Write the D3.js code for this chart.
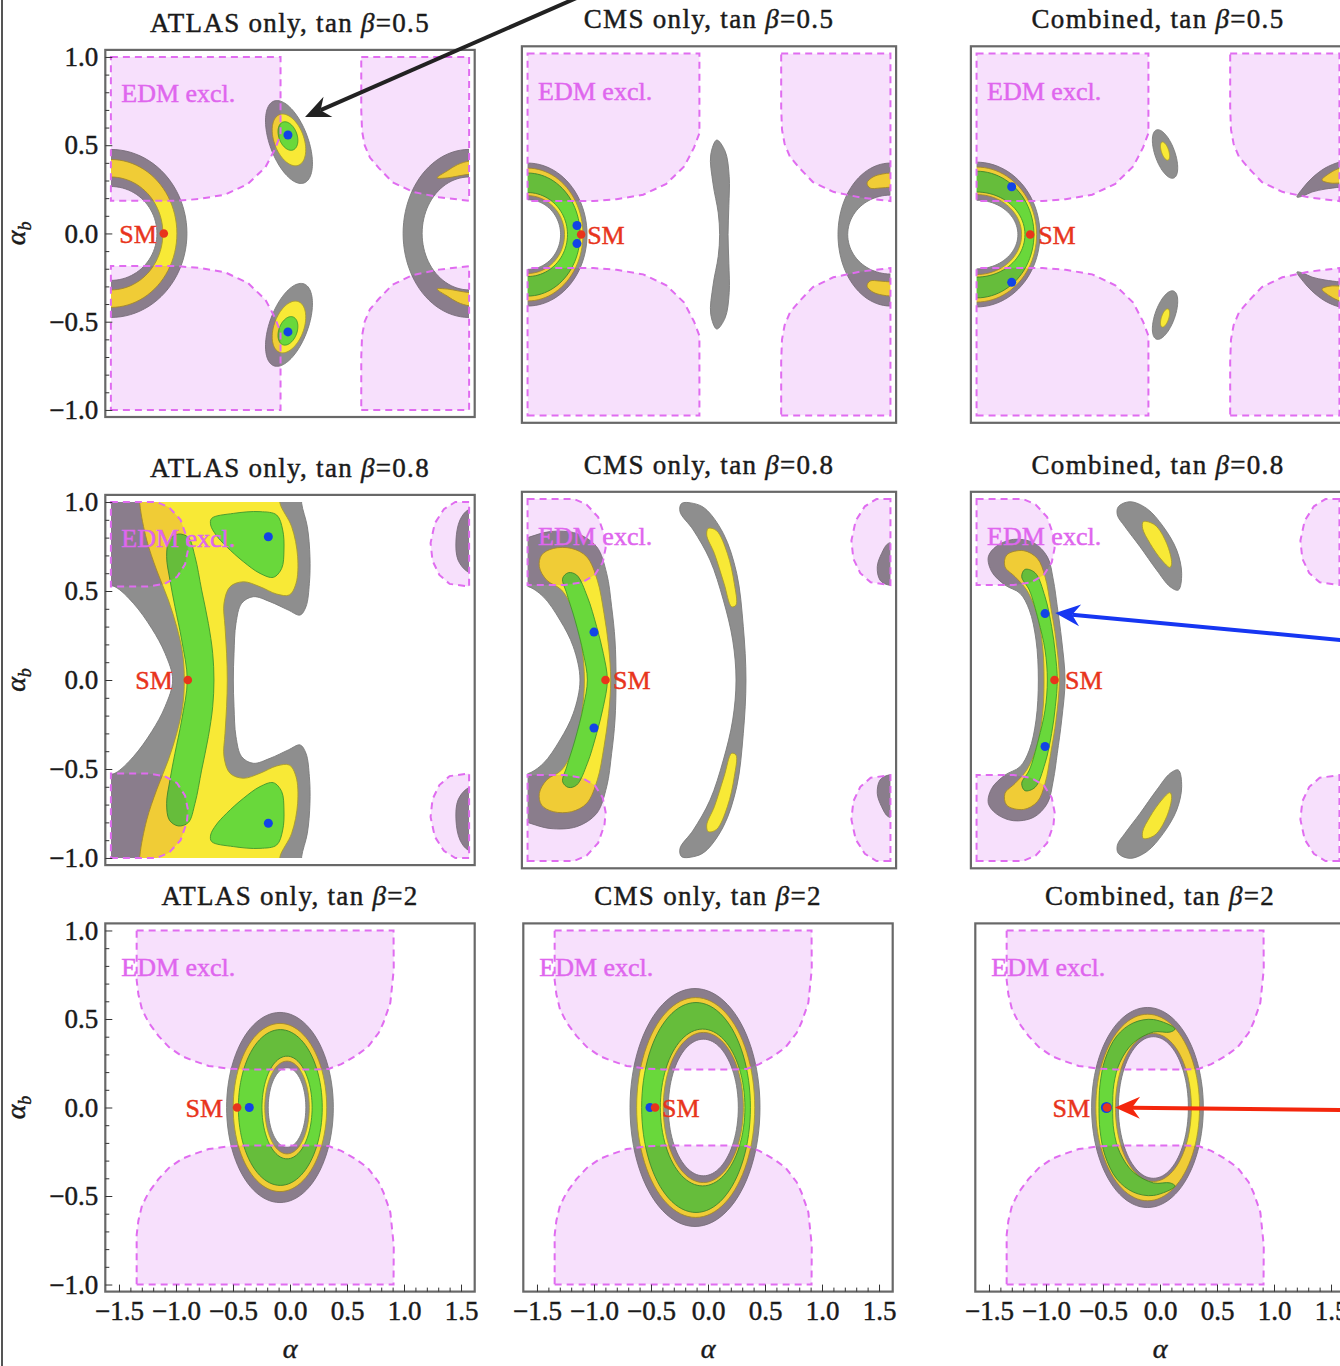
<!DOCTYPE html>
<html>
<head>
<meta charset="utf-8">
<script src="https://cdn.jsdelivr.net/npm/d3@7"></script>
<style>
  body { margin: 0; background: #fff; }
  svg { display: block; }
  text { font-family: "Liberation Serif", "Times New Roman", serif; }
  .heavy { stroke-width: 0.45px; paint-order: stroke; }
</style>
</head>
<body>
<svg id="fig" width="1340" height="1366"></svg>
<script>
// ---------------------------------------------------------------
// Fit names, tan(beta) values and axis ticks
// ---------------------------------------------------------------
const fitNames = ["ATLAS only", "CMS only", "Combined"];
const tanBetaLabels = ["0.5", "0.8", "2"];
const smAlpha = [-1.107, -0.896, -0.464];          // SM point (alpha = beta - pi/2, alpha_b = 0) per row
const yTicks = [-1, -0.5, 0, 0.5, 1];
const xTicks = [-1.5, -1, -0.5, 0, 0.5, 1, 1.5];
const yMinor = [-0.9,-0.8,-0.7,-0.6,-0.4,-0.3,-0.2,-0.1,0.1,0.2,0.3,0.4,0.6,0.7,0.8,0.9];
const xMinor = [-1.4,-1.3,-1.2,-1.1,-0.9,-0.8,-0.7,-0.6,-0.4,-0.3,-0.2,-0.1,0.1,0.2,0.3,0.4,0.6,0.7,0.8,0.9,1.1,1.2,1.3,1.4];

// ---------------------------------------------------------------
// EDM-excluded regions (alpha, alpha_b), one set per tan(beta)
// ---------------------------------------------------------------
const edm05 = [
  [[-1.571,1],[-0.083,1],[-0.083,0.56],[-0.13,0.48],[-0.215,0.376],[-0.37,0.28],[-0.57,0.22],[-0.8,0.195],[-1.0,0.185],[-1.571,0.185]],
  [[0.625,1],[1.571,1],[1.571,0.185],[1.307,0.205],[1.076,0.236],[0.9,0.29],[0.78,0.37],[0.701,0.43],[0.655,0.5],[0.632,0.58],[0.625,0.7]],
  [[-1.571,-1],[-0.083,-1],[-0.083,-0.56],[-0.13,-0.48],[-0.215,-0.376],[-0.37,-0.28],[-0.57,-0.22],[-0.8,-0.195],[-1.0,-0.185],[-1.571,-0.185]],
  [[0.625,-1],[1.571,-1],[1.571,-0.185],[1.307,-0.205],[1.076,-0.236],[0.9,-0.29],[0.78,-0.37],[0.701,-0.43],[0.655,-0.5],[0.632,-0.58],[0.625,-0.7]]
];
const edm08 = [
  [[-1.571,1],[-1.17,1],[-1.06,0.97],[-0.96,0.9],[-0.905,0.8],[-0.895,0.73],[-0.92,0.65],[-0.99,0.58],[-1.1,0.54],[-1.25,0.525],[-1.571,0.525]],
  [[1.571,1],[1.45,1],[1.35,0.96],[1.27,0.88],[1.233,0.77],[1.25,0.67],[1.31,0.59],[1.4,0.54],[1.571,0.525]],
  [[-1.571,-1],[-1.17,-1],[-1.06,-0.97],[-0.96,-0.9],[-0.905,-0.8],[-0.895,-0.73],[-0.92,-0.65],[-0.99,-0.58],[-1.1,-0.54],[-1.25,-0.525],[-1.571,-0.525]],
  [[1.571,-1],[1.45,-1],[1.35,-0.96],[1.27,-0.88],[1.233,-0.77],[1.25,-0.67],[1.31,-0.59],[1.4,-0.54],[1.571,-0.525]]
];
const edm2 = [
  [[-1.345,1],[0.908,1],[0.91,0.78],[0.88,0.591],[0.82,0.48],[0.778,0.422],[0.68,0.34],[0.573,0.29],[0.45,0.245],[0.339,0.218],[0.2,0.215],[-0.4,0.215],[-0.55,0.22],[-0.713,0.235],[-0.85,0.265],[-0.947,0.29],[-1.06,0.34],[-1.152,0.403],[-1.24,0.48],[-1.298,0.554],[-1.33,0.64],[-1.345,0.72]],
  [[-1.345,-1],[0.908,-1],[0.91,-0.78],[0.88,-0.591],[0.82,-0.48],[0.778,-0.422],[0.68,-0.34],[0.573,-0.29],[0.45,-0.245],[0.339,-0.218],[0.2,-0.215],[-0.4,-0.215],[-0.55,-0.22],[-0.713,-0.235],[-0.85,-0.265],[-0.947,-0.29],[-1.06,-0.34],[-1.152,-0.403],[-1.24,-0.48],[-1.298,-0.554],[-1.33,-0.64],[-1.345,-0.72]]
];

// ---------------------------------------------------------------
// Allowed regions. Each entry is one connected region made of loops:
//   e: [alpha0, alphab0, r_alpha, r_alphab]             axis-aligned ellipse
//   r: [alpha0, alphab0, u_a, u_b, v_a, v_b]            ellipse from two conjugate semi-axes
//   p: [[alpha, alpha_b], ...]                           closed outline
// ---------------------------------------------------------------
// ATLAS only, tan beta = 0.5
const atlas05Gray = [
  [{e:[-1.571,0,0.667,0.476]},{e:[-1.571,0,0.404,0.266]}],
  [{e:[1.571,0,0.579,0.476]},{e:[1.571,0,0.412,0.32]}],
  [{r:[-0.009,0.518,0.132,-0.232,-0.158,-0.037]}],
  [{r:[-0.009,-0.518,0.132,0.232,-0.158,0.037]}]
];
const atlas05Yellow = [
  [{e:[-1.571,0,0.579,0.419]},{e:[-1.571,0,0.456,0.32]}],
  [{p:[[1.29,0.315],[1.38,0.355],[1.47,0.39],[1.571,0.41],[1.65,0.41],[1.65,0.335],[1.571,0.335],[1.47,0.325],[1.38,0.315]]}],
  [{p:[[1.29,-0.315],[1.38,-0.355],[1.47,-0.39],[1.571,-0.41],[1.65,-0.41],[1.65,-0.335],[1.571,-0.335],[1.47,-0.325],[1.38,-0.315]]}],
  [{r:[-0.009,0.53,0.081,-0.144,-0.123,-0.028]}],
  [{r:[-0.009,-0.53,0.081,0.144,-0.123,0.028]}]
];
const atlas05Green = [
  [{r:[-0.018,0.552,0.044,-0.079,-0.075,-0.017]}],
  [{r:[-0.018,-0.552,0.044,0.079,-0.075,0.017]}]
];

// CMS only, tan beta = 0.5
const cms05Gray = [
  [{e:[-1.571,0,0.515,0.395]},{e:[-1.571,0,0.286,0.193]}],
  [{e:[1.571,0,0.454,0.395]},{e:[1.571,0,0.37,0.218]}],
  [{p:[[0.067,0.522],[0.14,0.46],[0.175,0.32],[0.172,0.16],[0.165,0],[0.172,-0.16],[0.175,-0.32],[0.14,-0.46],[0.067,-0.522],[0.015,-0.44],[0.035,-0.28],[0.08,-0.12],[0.092,0],[0.08,0.12],[0.035,0.28],[0.015,0.44]]}]
];
const cms05Yellow = [
  [{e:[-1.571,0,0.48,0.367]},{e:[-1.571,0,0.32,0.215]}],
  [{p:[[1.368,0.285],[1.42,0.318],[1.498,0.334],[1.576,0.34],[1.65,0.34],[1.65,0.262],[1.576,0.262],[1.48,0.257],[1.394,0.257]]}],
  [{p:[[1.368,-0.285],[1.42,-0.318],[1.498,-0.334],[1.576,-0.34],[1.65,-0.34],[1.65,-0.262],[1.576,-0.262],[1.48,-0.257],[1.394,-0.257]]}]
];
const cms05Green = [
  [{e:[-1.571,0,0.455,0.34]},{e:[-1.571,0,0.346,0.232]}]
];

// Combined, tan beta = 0.5
const comb05Gray = [
  [{e:[-1.571,0,0.549,0.40]},{e:[-1.571,0,0.358,0.19]}],
  [{r:[0.061,0.445,0.074,-0.133,-0.081,-0.018]}],
  [{r:[0.061,-0.445,0.074,0.133,-0.081,0.018]}],
  [{p:[[1.203,0.207],[1.255,0.257],[1.333,0.312],[1.446,0.367],[1.576,0.401],[1.662,0.406],[1.662,0.268],[1.576,0.262],[1.446,0.251],[1.333,0.235],[1.255,0.213]]}],
  [{p:[[1.203,-0.207],[1.255,-0.257],[1.333,-0.312],[1.446,-0.367],[1.576,-0.401],[1.662,-0.406],[1.662,-0.268],[1.576,-0.262],[1.446,-0.251],[1.333,-0.235],[1.255,-0.213]]}]
];
const comb05Yellow = [
  [{e:[-1.571,0,0.52,0.373]},{e:[-1.571,0,0.39,0.221]}],
  [{r:[0.061,0.461,0.026,-0.05,-0.03,-0.007]}],
  [{r:[0.061,-0.461,0.026,0.05,-0.03,0.007]}],
  [{p:[[1.42,0.301],[1.489,0.34],[1.576,0.367],[1.662,0.373],[1.662,0.29],[1.576,0.285],[1.489,0.285]]}],
  [{p:[[1.42,-0.301],[1.489,-0.34],[1.576,-0.367],[1.662,-0.373],[1.662,-0.29],[1.576,-0.285],[1.489,-0.285]]}]
];
const comb05Green = [
  [{e:[-1.571,0,0.497,0.35]},{e:[-1.571,0,0.419,0.235]}]
];

// ATLAS only, tan beta = 0.8
const atlas08Gray = [
  [{p:[[-1.667,1.067],[0.102,1.067],[0.102,0.993],[0.152,0.861],[0.175,0.693],[0.17,0.543],[0.14,0.412],[0.088,0.365],[-0.015,0.393],[-0.175,0.44],[-0.322,0.468],[-0.424,0.431],[-0.474,0.318],[-0.491,0.15],[-0.497,0],[-0.491,-0.15],[-0.474,-0.318],[-0.424,-0.431],[-0.322,-0.468],[-0.175,-0.44],[-0.015,-0.393],[0.088,-0.365],[0.14,-0.412],[0.17,-0.543],[0.175,-0.693],[0.152,-0.861],[0.102,-0.993],[0.102,-1.067],[-1.667,-1.067],[-1.667,-0.543],[-1.535,-0.524],[-1.374,-0.431],[-1.213,-0.29],[-1.096,-0.15],[-1.029,0],[-1.096,0.15],[-1.213,0.29],[-1.374,0.431],[-1.535,0.524],[-1.667,0.543]]}],
  [{p:[[1.561,0.955],[1.491,0.899],[1.456,0.787],[1.474,0.674],[1.561,0.607],[1.65,0.6],[1.65,0.96]]}],
  [{p:[[1.561,-0.955],[1.491,-0.899],[1.456,-0.787],[1.474,-0.674],[1.561,-0.607],[1.65,-0.6],[1.65,-0.96]]}]
];
const atlas08Yellow = [
  [{p:[[-1.316,1.067],[-0.088,1.067],[-0.088,0.993],[0.015,0.861],[0.067,0.693],[0.053,0.543],[-0.006,0.478],[-0.117,0.483],[-0.263,0.524],[-0.409,0.552],[-0.526,0.524],[-0.579,0.431],[-0.57,0.3],[-0.556,0.15],[-0.55,0],[-0.556,-0.15],[-0.57,-0.3],[-0.579,-0.431],[-0.526,-0.524],[-0.409,-0.552],[-0.263,-0.524],[-0.117,-0.483],[-0.006,-0.478],[0.053,-0.543],[0.067,-0.693],[0.015,-0.861],[-0.088,-0.993],[-0.088,-1.067],[-1.316,-1.067],[-1.316,-0.983],[-1.257,-0.787],[-1.17,-0.618],[-1.067,-0.449],[-0.994,-0.3],[-0.942,-0.15],[-0.927,0],[-0.942,0.15],[-0.994,0.3],[-1.067,0.449],[-1.17,0.618],[-1.257,0.787],[-1.316,0.983]]}]
];
const atlas08Green = [
  [{p:[[-0.98,0.82],[-0.892,0.801],[-0.833,0.693],[-0.775,0.506],[-0.716,0.318],[-0.678,0.15],[-0.667,0],[-0.678,-0.15],[-0.716,-0.318],[-0.775,-0.506],[-0.833,-0.693],[-0.892,-0.801],[-0.98,-0.82],[-1.058,-0.787],[-1.082,-0.693],[-1.053,-0.562],[-1.009,-0.412],[-0.95,-0.225],[-0.901,0],[-0.95,0.225],[-1.009,0.412],[-1.053,0.562],[-1.082,0.693],[-1.058,0.787]]}],
  [{p:[[-0.687,0.908],[-0.497,0.936],[-0.263,0.946],[-0.117,0.927],[-0.064,0.843],[-0.053,0.73],[-0.073,0.627],[-0.146,0.577],[-0.263,0.599],[-0.409,0.665],[-0.556,0.749],[-0.649,0.815],[-0.696,0.871]]}],
  [{p:[[-0.687,-0.908],[-0.497,-0.936],[-0.263,-0.946],[-0.117,-0.927],[-0.064,-0.843],[-0.053,-0.73],[-0.073,-0.627],[-0.146,-0.577],[-0.263,-0.599],[-0.409,-0.665],[-0.556,-0.749],[-0.649,-0.815],[-0.696,-0.871]]}]
];

// CMS only, tan beta = 0.8
const cms08Gray = [
  [{p:[[-1.636,0.773],[-1.564,0.788],[-1.377,0.82],[-1.146,0.81],[-0.973,0.737],[-0.886,0.589],[-0.843,0.405],[-0.814,0.221],[-0.805,0],[-0.814,-0.221],[-0.843,-0.405],[-0.886,-0.589],[-0.973,-0.737],[-1.146,-0.81],[-1.377,-0.82],[-1.564,-0.788],[-1.636,-0.773],[-1.636,-0.516],[-1.564,-0.516],[-1.434,-0.46],[-1.29,-0.331],[-1.175,-0.184],[-1.117,0],[-1.175,0.184],[-1.29,0.331],[-1.434,0.46],[-1.564,0.516],[-1.636,0.516]]}],
  [{p:[[-0.237,0.976],[-0.136,0.976],[-0.035,0.948],[0.124,0.81],[0.24,0.589],[0.297,0.295],[0.32,0],[0.297,-0.295],[0.24,-0.589],[0.124,-0.81],[-0.035,-0.948],[-0.136,-0.976],[-0.237,-0.976],[-0.251,-0.93],[-0.136,-0.829],[0.009,-0.663],[0.124,-0.442],[0.205,-0.221],[0.234,0],[0.205,0.221],[0.124,0.442],[0.009,0.663],[-0.136,0.829],[-0.251,0.93]]}],
  [{p:[[1.553,0.755],[1.495,0.70],[1.457,0.626],[1.481,0.552],[1.553,0.525],[1.65,0.525],[1.65,0.755]]}],
  [{p:[[1.553,-0.755],[1.495,-0.70],[1.457,-0.626],[1.481,-0.552],[1.553,-0.525],[1.65,-0.525],[1.65,-0.755]]}]
];
const cms08Yellow = [
  [{p:[[-1.449,0.691],[-1.348,0.727],[-1.189,0.727],[-1.059,0.681],[-0.967,0.552],[-0.909,0.368],[-0.869,0.184],[-0.851,0],[-0.869,-0.184],[-0.909,-0.368],[-0.967,-0.552],[-1.059,-0.681],[-1.189,-0.727],[-1.348,-0.727],[-1.449,-0.691],[-1.469,-0.626],[-1.405,-0.552],[-1.276,-0.497],[-1.169,-0.368],[-1.102,-0.184],[-1.079,0],[-1.102,0.184],[-1.169,0.368],[-1.276,0.497],[-1.405,0.552],[-1.469,0.626]]}],
  [{p:[[-0.006,0.838],[0.066,0.825],[0.159,0.7],[0.219,0.534],[0.234,0.414],[0.196,0.405],[0.13,0.534],[0.046,0.7],[-0.02,0.801]]}],
  [{p:[[-0.006,-0.838],[0.066,-0.825],[0.159,-0.7],[0.219,-0.534],[0.234,-0.414],[0.196,-0.405],[0.13,-0.534],[0.046,-0.7],[-0.02,-0.801]]}]
];
const cms08Green = [
  [{p:[[-1.218,0.593],[-1.146,0.58],[-1.053,0.46],[-0.973,0.295],[-0.915,0.147],[-0.88,0],[-0.915,-0.147],[-0.973,-0.295],[-1.053,-0.46],[-1.146,-0.58],[-1.218,-0.593],[-1.267,-0.562],[-1.232,-0.479],[-1.16,-0.331],[-1.088,-0.147],[-1.053,0],[-1.088,0.147],[-1.16,0.331],[-1.232,0.479],[-1.267,0.562]]}]
];

// Combined, tan beta = 0.8
const comb08Gray = [
  [{p:[[-1.469,0.681],[-1.397,0.74],[-1.253,0.777],[-1.079,0.759],[-0.958,0.681],[-0.906,0.552],[-0.872,0.405],[-0.834,0.221],[-0.805,0],[-0.834,-0.221],[-0.872,-0.405],[-0.906,-0.552],[-0.958,-0.681],[-1.079,-0.759],[-1.253,-0.777],[-1.397,-0.74],[-1.469,-0.681],[-1.44,-0.599],[-1.325,-0.525],[-1.195,-0.479],[-1.114,-0.387],[-1.056,-0.221],[-1.036,0],[-1.056,0.221],[-1.114,0.387],[-1.195,0.479],[-1.325,0.525],[-1.44,0.599]]}],
  [{p:[[-0.343,0.958],[-0.242,0.985],[-0.098,0.948],[0.046,0.847],[0.162,0.718],[0.205,0.589],[0.176,0.497],[0.104,0.516],[-0.012,0.608],[-0.156,0.737],[-0.286,0.847],[-0.352,0.912]]}],
  [{p:[[-0.343,-0.958],[-0.242,-0.985],[-0.098,-0.948],[0.046,-0.847],[0.162,-0.718],[0.205,-0.589],[0.176,-0.497],[0.104,-0.516],[-0.012,-0.608],[-0.156,-0.737],[-0.286,-0.847],[-0.352,-0.912]]}]
];
const comb08Yellow = [
  [{p:[[-1.31,0.691],[-1.166,0.715],[-1.045,0.672],[-0.978,0.571],[-0.929,0.405],[-0.883,0.221],[-0.854,0],[-0.883,-0.221],[-0.929,-0.405],[-0.978,-0.571],[-1.045,-0.672],[-1.166,-0.715],[-1.31,-0.691],[-1.325,-0.626],[-1.238,-0.571],[-1.137,-0.497],[-1.05,-0.368],[-0.999,-0.184],[-0.987,0],[-0.999,0.184],[-1.05,0.368],[-1.137,0.497],[-1.238,0.571],[-1.325,0.626]]}],
  [{p:[[-0.127,0.875],[-0.026,0.856],[0.075,0.755],[0.118,0.645],[0.104,0.622],[0.032,0.663],[-0.069,0.755],[-0.133,0.838]]}],
  [{p:[[-0.127,-0.875],[-0.026,-0.856],[0.075,-0.755],[0.118,-0.645],[0.104,-0.622],[0.032,-0.663],[-0.069,-0.755],[-0.133,-0.838]]}]
];
const comb08Green = [
  [{p:[[-1.152,0.611],[-1.065,0.593],[-0.978,0.46],[-0.921,0.295],[-0.889,0.147],[-0.872,0],[-0.889,-0.147],[-0.921,-0.295],[-0.978,-0.46],[-1.065,-0.593],[-1.152,-0.611],[-1.18,-0.571],[-1.114,-0.497],[-1.036,-0.331],[-0.978,-0.166],[-0.958,0],[-0.978,0.166],[-1.036,0.331],[-1.114,0.497],[-1.18,0.571]]}]
];

// ATLAS only, tan beta = 2
const atlas2Gray   = [[{e:[-0.088,0,0.468,0.537]},{e:[-0.026,0,0.165,0.225]}]];
const atlas2Yellow = [[{e:[-0.088,0,0.41,0.475]},{e:[-0.026,0,0.195,0.262]}]];
const atlas2Green  = [[{e:[-0.085,0,0.368,0.44]},{e:[-0.026,0,0.22,0.29]}]];

// CMS only, tan beta = 2
const cms2Gray   = [[{e:[-0.114,0,0.57,0.672]},{e:[-0.041,0,0.307,0.386]}]];
const cms2Yellow = [[{e:[-0.108,0,0.518,0.621]},{e:[-0.041,0,0.351,0.424]}]];
const cms2Green  = [[{e:[-0.105,0,0.477,0.593]},{e:[-0.047,0,0.371,0.443]}]];

// Combined, tan beta = 2
const comb2Gray   = [[{e:[-0.11,0,0.49,0.565]},{e:[-0.058,0,0.307,0.40]}]];
const comb2Yellow = [[{e:[-0.108,0,0.455,0.527]},{e:[-0.058,0,0.333,0.418]}]];
const comb2Green  = [[{p:[[0.132,0.444],[-0.058,0.497],[-0.234,0.478],[-0.38,0.403],[-0.482,0.271],[-0.526,0.13],[-0.535,0],[-0.526,-0.13],[-0.482,-0.271],[-0.38,-0.403],[-0.234,-0.478],[-0.058,-0.497],[0.132,-0.444],[0.088,-0.426],[-0.058,-0.426],[-0.234,-0.365],[-0.351,-0.256],[-0.404,-0.134],[-0.415,0],[-0.404,0.134],[-0.351,0.256],[-0.234,0.365],[-0.058,0.426],[0.088,0.426]]}]];

// Best-fit points (alpha, alpha_b)
const bestAtlas05 = [[-0.018,0.558],[-0.018,-0.558]];
const bestCms05   = [[-1.143,0.05],[-1.143,-0.05]];
const bestComb05  = [[-1.267,0.264],[-1.267,-0.264]];
const bestAtlas08 = [[-0.19,0.805],[-0.19,-0.805]];
const bestCms08   = [[-0.996,0.265],[-0.996,-0.265]];
const bestComb08  = [[-0.978,0.367],[-0.978,-0.367]];
const bestAtlas2  = [[-0.357,0]];
const bestCms2    = [[-0.509,0]];
const bestComb2   = [[-0.47,0]];

// ---------------------------------------------------------------
// Panel layout (pixel frames) and contents, row by row
// ---------------------------------------------------------------
const XDOM = [-1.62, 1.62], YDOM = [-1.04, 1.04];
const A_MAX = 1.571, B_MAX = 1.0;

const layout = [
  {left:105.3, top:49.9,  w:369.4, h:367.1, smGap:-7},
  {left:521.9, top:46.3,  w:374.2, h:376.5, smGap:6},
  {left:970.9, top:46.3,  w:374.2, h:376.5, smGap:8},
  {left:105.3, top:494.9, w:369.4, h:370.2, smGap:-15},
  {left:521.9, top:491.8, w:374.2, h:376.5, smGap:7.5},
  {left:970.9, top:491.8, w:374.2, h:376.5, smGap:10.5},
  {left:105.3, top:923.4, w:369.4, h:368.2, smGap:-14},
  {left:523.3, top:923.4, w:369.4, h:368.2, smGap:7},
  {left:975.3, top:923.4, w:369.4, h:368.2, smGap:-17}
];

const edmRows = [edm05, edm08, edm2];
const panels = [
  {gray:atlas05Gray, yellow:atlas05Yellow, green:atlas05Green, best:bestAtlas05},
  {gray:cms05Gray,   yellow:cms05Yellow,   green:cms05Green,   best:bestCms05},
  {gray:comb05Gray,  yellow:comb05Yellow,  green:comb05Green,  best:bestComb05},
  {gray:atlas08Gray, yellow:atlas08Yellow, green:atlas08Green, best:bestAtlas08},
  {gray:cms08Gray,   yellow:cms08Yellow,   green:cms08Green,   best:bestCms08},
  {gray:comb08Gray,  yellow:comb08Yellow,  green:comb08Green,  best:bestComb08},
  {gray:atlas2Gray,  yellow:atlas2Yellow,  green:atlas2Green,  best:bestAtlas2},
  {gray:cms2Gray,    yellow:cms2Yellow,    green:cms2Green,    best:bestCms2},
  {gray:comb2Gray,   yellow:comb2Yellow,   green:comb2Green,   best:bestComb2}
];

// Annotation arrows (tail, tip) in the coordinates of the panel they point into
const arrows = [
  {panel:0, from:[2.544,1.343], to:[0.132,0.66], color:"#222222"},
  {panel:5, from:[1.77,0.21],   to:[-0.89,0.37], color:"#1636f2"},
  {panel:8, from:[1.772,-0.015], to:[-0.395,0],  color:"#f4260c"}
];

const fillCol   = {gray:"#8e8e8e", yellow:"#f8e936", green:"#69d83b"};
const strokeCol = {gray:"#7b7b7b", yellow:"#a89a2c", green:"#3f962c"};
const PINK = "#f7e0fc", EDM_LINE = "#e06cf0", EDM_TEXT = "#df66ee", SM_RED = "#e8341c", FIT_BLUE = "#1244e6";
const INK = "#1a1a1a";

const svg = d3.select("#fig");
const defs = svg.append("defs");

// page edge line on the left
svg.append("line").attr("x1",2).attr("x2",2).attr("y1",0).attr("y2",1366)
  .attr("stroke","#555").attr("stroke-width",2);

function loopPath(s, x, y) {
  const N = 96;
  if (s.e || s.r) {
    const [ca, cb, ua, ub, va, vb] = s.e ? [s.e[0], s.e[1], s.e[2], 0, 0, s.e[3]] : s.r;
    const pts = d3.range(N).map(k => {
      const t = k / N * 2 * Math.PI, c = Math.cos(t), sn = Math.sin(t);
      return [x(ca + ua * c + va * sn), y(cb + ub * c + vb * sn)];
    });
    return d3.line().curve(d3.curveLinearClosed)(pts);
  }
  return d3.line().x(d => x(d[0])).y(d => y(d[1])).curve(d3.curveCatmullRomClosed.alpha(0.5))(s.p);
}

const scales = [];

panels.forEach((p, i) => {
  const L = layout[i];
  const row = Math.floor(i / 3), col = i % 3;
  const x = d3.scaleLinear().domain(XDOM).range([L.left, L.left + L.w]);
  const y = d3.scaleLinear().domain(YDOM).range([L.top + L.h, L.top]);
  scales.push({x, y});

  const g = svg.append("g").attr("class", "panel");

  // clip to the plotted alpha / alpha_b range
  defs.append("clipPath").attr("id", "plotclip" + i).append("rect")
    .attr("x", x(-A_MAX)).attr("y", y(B_MAX))
    .attr("width", x(A_MAX) - x(-A_MAX)).attr("height", y(-B_MAX) - y(B_MAX));

  g.append("rect").attr("x", L.left).attr("y", L.top).attr("width", L.w).attr("height", L.h).attr("fill", "#fff");

  const plot = g.append("g").attr("clip-path", `url(#plotclip${i})`);

  ["gray", "yellow", "green"].forEach(lvl => {
    plot.append("g").selectAll("path").data(p[lvl]).join("path")
      .attr("d", loops => loops.map(s => loopPath(s, x, y)).join(""))
      .attr("fill", fillCol[lvl]).attr("fill-rule", "evenodd")
      .attr("stroke", strokeCol[lvl]).attr("stroke-width", 0.9);
  });

  // EDM excluded regions: tinted overlay plus dashed border
  const edmLine = d3.line().x(d => x(d[0])).y(d => y(d[1])).curve(d3.curveLinearClosed);
  plot.append("g").style("mix-blend-mode", "multiply")
    .selectAll("path").data(edmRows[row]).join("path")
    .attr("d", edmLine).attr("fill", PINK);
  g.append("g").selectAll("path").data(edmRows[row]).join("path")
    .attr("d", edmLine).attr("fill", "none").attr("stroke", EDM_LINE)
    .attr("stroke-width", 2).attr("stroke-dasharray", "7 5");

  g.append("text").attr("class", "heavy").attr("x", x(-1.48)).attr("y", y(0.745))
    .attr("font-size", 26).attr("fill", EDM_TEXT).attr("stroke", EDM_TEXT).text("EDM excl.");

  // best-fit points and SM point
  g.append("g").selectAll("circle").data(p.best).join("circle")
    .attr("cx", d => x(d[0])).attr("cy", d => y(d[1]))
    .attr("r", i === 8 ? 5.5 : 4.5).attr("fill", FIT_BLUE);
  const smX = x(smAlpha[row]), smY = y(0);
  g.append("circle").attr("cx", smX).attr("cy", smY).attr("r", 4.3).attr("fill", SM_RED);
  g.append("text").attr("class", "heavy").attr("x", smX + L.smGap).attr("y", smY).attr("dy", "0.35em")
    .attr("text-anchor", L.smGap < 0 ? "end" : "start")
    .attr("font-size", 26).attr("fill", SM_RED).attr("stroke", SM_RED).text("SM");

  // frame
  g.append("rect").attr("x", L.left).attr("y", L.top).attr("width", L.w).attr("height", L.h)
    .attr("fill", "none").attr("stroke", "#686868").attr("stroke-width", 2.2);

  // title
  const t = g.append("text").attr("class", "heavy").attr("x", x(0)).attr("y", L.top - 18)
    .attr("text-anchor", "middle").attr("font-size", 27).attr("letter-spacing", "1.3px")
    .attr("fill", INK).attr("stroke", INK);
  t.append("tspan").text(`${fitNames[col]}, tan `);
  t.append("tspan").attr("font-style", "italic").text("β");
  t.append("tspan").text(`=${tanBetaLabels[row]}`);

  const fmt = d3.format(".1f");
  if (col === 0) {
    const ya = g.append("g").attr("transform", `translate(${L.left},0)`);
    ya.call(d3.axisLeft(y).tickValues(yTicks).tickSize(-7).tickPadding(7).tickFormat(fmt));
    ya.append("g").call(d3.axisLeft(y).tickValues(yMinor).tickSize(-4).tickFormat(""));
    ya.selectAll(".domain").remove();
    ya.selectAll("line").attr("stroke", "#333");
    ya.selectAll("text").attr("class", "heavy").attr("font-size", 27).attr("fill", INK).attr("stroke", INK)
      .attr("font-family", '"Liberation Serif", serif');
    // y axis title
    const yl = g.append("text").attr("class", "heavy").attr("transform", `translate(25,${y(0)}) rotate(-90)`)
      .attr("text-anchor", "middle").attr("font-size", 28).attr("font-style", "italic")
      .attr("fill", INK).attr("stroke", INK);
    yl.append("tspan").text("α");
    yl.append("tspan").attr("font-size", 18).attr("dy", 6).text("b");
  }
  if (row === 2) {
    const xa = g.append("g").attr("transform", `translate(0,${L.top + L.h})`);
    xa.call(d3.axisBottom(x).tickValues(xTicks).tickSize(-7).tickPadding(9).tickFormat(fmt));
    xa.append("g").call(d3.axisBottom(x).tickValues(xMinor).tickSize(-4).tickFormat(""));
    xa.selectAll(".domain").remove();
    xa.selectAll("line").attr("stroke", "#333");
    xa.selectAll("text").attr("class", "heavy").attr("font-size", 27).attr("fill", INK).attr("stroke", INK)
      .attr("font-family", '"Liberation Serif", serif');
    g.append("text").attr("class", "heavy").attr("x", x(0)).attr("y", 1358).attr("text-anchor", "middle")
      .attr("font-size", 28).attr("font-style", "italic").attr("fill", INK).attr("stroke", INK).text("α");
  }
});

// annotation arrows
arrows.forEach(a => {
  const {x, y} = scales[a.panel];
  const x0 = x(a.from[0]), y0 = y(a.from[1]), x1 = x(a.to[0]), y1 = y(a.to[1]);
  const dx = x1 - x0, dy = y1 - y0, len = Math.hypot(dx, dy);
  const ux = dx / len, uy = dy / len, nx = -uy, ny = ux;
  const headL = 25, headW = 11, notch = 17;
  svg.append("line").attr("x1", x0).attr("y1", y0)
    .attr("x2", x1 - ux * notch).attr("y2", y1 - uy * notch)
    .attr("stroke", a.color).attr("stroke-width", 4);
  const pts = [
    [x1, y1],
    [x1 - ux * headL + nx * headW, y1 - uy * headL + ny * headW],
    [x1 - ux * notch, y1 - uy * notch],
    [x1 - ux * headL - nx * headW, y1 - uy * headL - ny * headW]
  ];
  svg.append("path").attr("d", d3.line().curve(d3.curveLinearClosed)(pts)).attr("fill", a.color);
});
</script>
</body>
</html>
